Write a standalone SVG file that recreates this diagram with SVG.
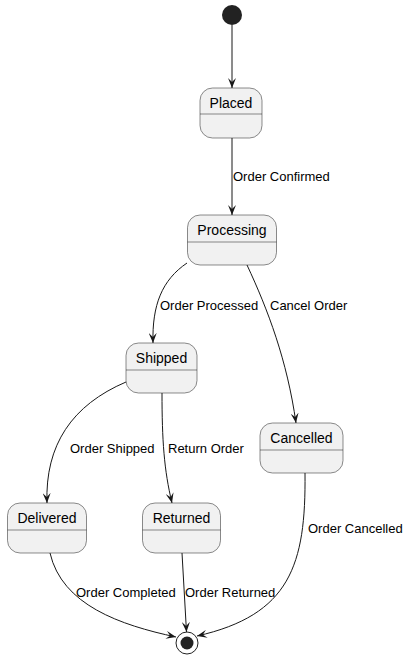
<svg xmlns="http://www.w3.org/2000/svg" width="408" height="658" viewBox="0 0 408 658">
<defs>
<marker id="arr" markerUnits="userSpaceOnUse" viewBox="0 0 10 8" refX="10" refY="4" markerWidth="10" markerHeight="8" orient="auto">
<path d="M0,0 L10,4 L0,8 L4,4 Z" fill="#181818"/>
</marker>
</defs>
<style>
.st rect{fill:#F1F1F1;stroke:#181818;stroke-width:0.5}
.st line{stroke:#181818;stroke-width:0.5}
.st text{font-family:"Liberation Sans",Arial,sans-serif;font-size:14px;fill:#000;text-anchor:middle}
.edges path{fill:none;stroke:#181818;stroke-width:1;marker-end:url(#arr)}
.lbl{font-family:"Liberation Sans",Arial,sans-serif;font-size:13px;fill:#000}
</style>
<rect width="408" height="658" fill="#fff"/>
<g id="start"><circle cx="232" cy="15" r="10" fill="#222"/></g>
<g id="Placed" class="st"><rect x="200" y="88" width="62" height="50" rx="12.5"/><line x1="200" y1="114" x2="262" y2="114"/><text x="231" y="108">Placed</text></g>
<g id="Processing" class="st"><rect x="187.5" y="215" width="89" height="50" rx="12.5"/><line x1="187.5" y1="242" x2="276.5" y2="242"/><text x="232" y="235">Processing</text></g>
<g id="Shipped" class="st"><rect x="126" y="343" width="71" height="50" rx="12.5"/><line x1="126" y1="370" x2="197" y2="370"/><text x="161.5" y="363">Shipped</text></g>
<g id="Cancelled" class="st"><rect x="260" y="423" width="83" height="50" rx="12.5"/><line x1="260" y1="450" x2="343" y2="450"/><text x="301.5" y="443">Cancelled</text></g>
<g id="Delivered" class="st"><rect x="7.5" y="503" width="79" height="50" rx="12.5"/><line x1="7.5" y1="530" x2="86.5" y2="530"/><text x="47" y="523">Delivered</text></g>
<g id="Returned" class="st"><rect x="142.5" y="503" width="78" height="50" rx="12.5"/><line x1="142.5" y1="530" x2="220.5" y2="530"/><text x="181.5" y="523">Returned</text></g>
<g id="end"><circle cx="187" cy="643" r="11" fill="none" stroke="#222" stroke-width="1"/><circle cx="187" cy="643" r="6.5" fill="#222"/></g>
<g class="edges" id="connectors">
<path d="M232,25 L232,88"/>
<path d="M232,138 L232,215"/>
<path d="M187,263 C162,280 152,305 153,343"/>
<path d="M247,265 C268,310 287,360 296,423"/>
<path d="M126,382 C72,405 45,445 47,503"/>
<path d="M162,393 C162,440 164,470 172,503"/>
<path d="M305,473 C306,565 290,615 197,636"/>
<path d="M50,553 C62,605 120,625 176,637"/>
<path d="M182,553 L186.5,632"/>
</g>
<g id="labels">
<text class="lbl" x="233" y="181">Order Confirmed</text>
<text class="lbl" x="160" y="310">Order Processed</text>
<text class="lbl" x="270" y="310">Cancel Order</text>
<text class="lbl" x="70" y="453">Order Shipped</text>
<text class="lbl" x="168" y="453">Return Order</text>
<text class="lbl" x="308" y="533">Order Cancelled</text>
<text class="lbl" x="76" y="597">Order Completed</text>
<text class="lbl" x="185" y="597">Order Returned</text>
</g>
</svg>
